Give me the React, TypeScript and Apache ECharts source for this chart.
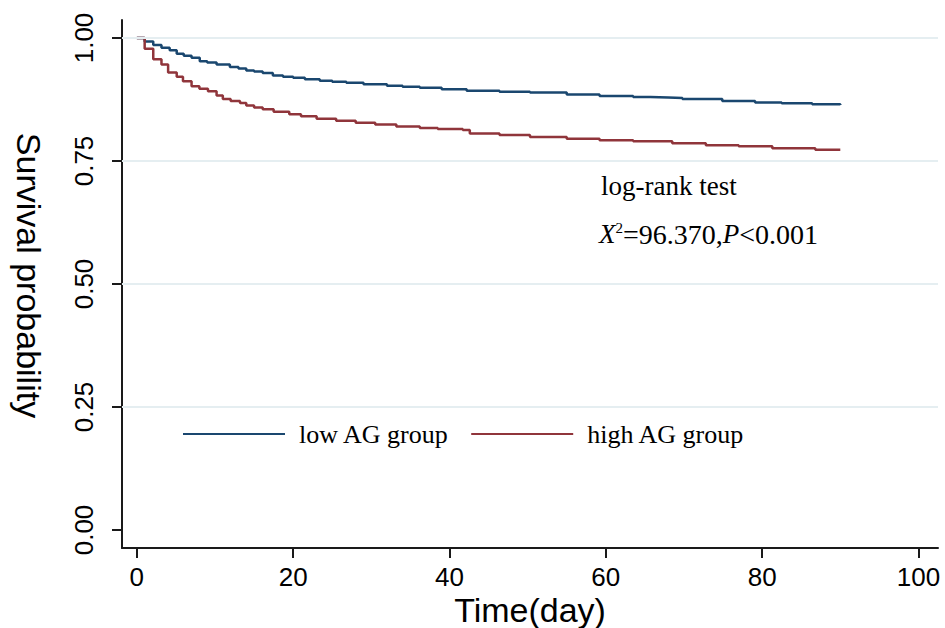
import React, { useEffect, useRef } from "react";
import * as echarts from "echarts";

const xTicks = [0, 20, 40, 60, 80, 100];
const yTicks = [0, 0.25, 0.5, 0.75, 1.0];
const gridValues = [0.25, 0.5, 0.75, 1.0];

const lowName = "low AG group";
const highName = "high AG group";

const lowTimes = [0, 1, 2.1, 3.15, 4.2, 5.1, 6, 7, 8.05, 9, 10.2, 11.9, 13, 14, 15, 16.1, 17.4, 18.7, 20, 21.5, 23.4, 25, 26.8, 29, 32, 34, 36.2, 39, 42.2, 46.4, 50.3, 55, 59.2, 63.5, 65.7, 68, 69.8, 74.9, 79.1, 82.5, 86.4, 90];
const lowSurv = [1.0, 0.993, 0.986, 0.98, 0.975, 0.968, 0.964, 0.96, 0.953, 0.95, 0.946, 0.941, 0.938, 0.934, 0.932, 0.929, 0.924, 0.921, 0.919, 0.916, 0.913, 0.911, 0.909, 0.906, 0.903, 0.901, 0.899, 0.896, 0.893, 0.891, 0.889, 0.885, 0.882, 0.88, 0.879, 0.878, 0.876, 0.872, 0.869, 0.8675, 0.8655, 0.864];

const highTimes = [0, 1, 2.1, 3.15, 4, 5.1, 5.9, 7, 8, 9.1, 10.2, 11, 12, 13.2, 14, 15, 16.1, 17.5, 19.5, 21, 23, 25.5, 28, 30.5, 33.2, 36.2, 38.5, 41.7, 42.6, 46.4, 50.3, 55, 59.2, 63.5, 68.5, 72.8, 77, 81.3, 86.8, 90];
const highSurv = [1.0, 0.978, 0.957, 0.946, 0.93, 0.921, 0.912, 0.902, 0.897, 0.892, 0.883, 0.876, 0.872, 0.868, 0.863, 0.859, 0.855, 0.85, 0.845, 0.841, 0.836, 0.832, 0.828, 0.824, 0.82, 0.817, 0.815, 0.813, 0.806, 0.803, 0.799, 0.795, 0.792, 0.79, 0.786, 0.782, 0.78, 0.776, 0.773, 0.772];

const BLUE = "#1a476f";
const RED = "#90353b";
const SANS = "'Liberation Sans', Arial, sans-serif";
const SERIF = "'Liberation Serif', 'Times New Roman', serif";

function pairs(t: number[], s: number[]) {
  return t.map((v, i) => [v, s[i]]);
}

export default function App() {
  const ref = useRef<HTMLDivElement>(null);
  useEffect(() => {
    if (!ref.current) return;
    const chart = echarts.init(ref.current, undefined, { renderer: "svg" });
    chart.setOption({
      animation: false,
      backgroundColor: "#ffffff",
      grid: { left: 122, right: 7, top: 20, bottom: 80, containLabel: false, outerBoundsMode: "none" },
      xAxis: {
        type: "value",
        min: -1.9,
        max: 102.5,
        name: "Time(day)",
        nameLocation: "middle",
        nameGap: 45,
        nameMoveOverlap: false,
        nameTextStyle: { fontFamily: SANS, fontSize: 34, color: "#000", lineHeight: 34 },
        axisLine: { show: true, onZero: false, lineStyle: { color: "#1a1a1a", width: 2 } },
        axisTick: { show: true, customValues: xTicks, length: 10, lineStyle: { color: "#1a1a1a", width: 2 } },
        axisLabel: { customValues: xTicks, fontFamily: SANS, fontSize: 26, color: "#000", margin: 16 },
        splitLine: { show: false },
      },
      yAxis: {
        type: "value",
        min: -0.0366,
        max: 1.0366,
        name: "Survival probability",
        nameLocation: "middle",
        nameRotate: -90,
        nameGap: 76,
        nameTextStyle: { fontFamily: SANS, fontSize: 34, color: "#000", padding: [0, 17, 0, 0] },
        axisLine: { show: true, onZero: false, lineStyle: { color: "#1a1a1a", width: 2 } },
        axisTick: { show: true, customValues: yTicks, length: 10, lineStyle: { color: "#1a1a1a", width: 2 } },
        axisLabel: {
          customValues: yTicks,
          rotate: 90,
          fontFamily: SANS,
          fontSize: 26,
          color: "#000",
          margin: 25,
          formatter: (v: number) => v.toFixed(2),
        },
        splitLine: { show: false },
      },
      legend: {
        left: 178,
        top: 416,
        itemWidth: 102,
        itemHeight: 2,
        itemGap: 22,
        icon: "rect",
        data: [lowName, highName],
        textStyle: { fontFamily: SERIF, fontSize: 26, color: "#000", padding: [0, 0, 0, 9] },
      },
      series: [
        {
          type: "line",
          name: "grid",
          data: [],
          silent: true,
          z: 0,
          markLine: {
            silent: true,
            symbol: "none",
            label: { show: false },
            lineStyle: { color: "#e5eef1", width: 2, type: "solid" },
            data: gridValues.map((v) => ({ yAxis: v })),
          },
        },
        {
          type: "line",
          name: lowName,
          step: "end",
          showSymbol: false,
          symbol: "none",
          lineStyle: { color: BLUE, width: 2.5 },
          itemStyle: { color: BLUE },
          data: pairs(lowTimes, lowSurv),
          z: 3,
        },
        {
          type: "line",
          name: highName,
          step: "end",
          showSymbol: false,
          symbol: "none",
          lineStyle: { color: RED, width: 2.5 },
          itemStyle: { color: RED },
          data: pairs(highTimes, highSurv),
          z: 3,
        },
      ],
      graphic: [
        {
          type: "text",
          left: 601,
          top: 172,
          style: { text: "log-rank test", fontFamily: SERIF, fontSize: 27, fill: "#000" },
        },
        {
          type: "text",
          left: 599,
          top: 220,
          style: {
            text: "{i|X}{s|2}{n|=96.370,}{i|P}{n|<0.001}",
            fontFamily: SERIF,
            fontSize: 27,
            fill: "#000",
            rich: {
              i: { fontFamily: SERIF, fontSize: 27, fontStyle: "italic", fill: "#000" },
              n: { fontFamily: SERIF, fontSize: 28, fill: "#000" },
              s: { fontFamily: SERIF, fontSize: 15, fill: "#000", verticalAlign: "top", padding: [0, 0, 11, 0] },
            },
          },
        },
      ],
    });
    return () => chart.dispose();
  }, []);
  return (
    <div style={{ position: "fixed", left: 0, top: 0, width: 945, height: 628, background: "#fff" }}>
      <div ref={ref} style={{ width: 945, height: 628 }} />
    </div>
  );
}
